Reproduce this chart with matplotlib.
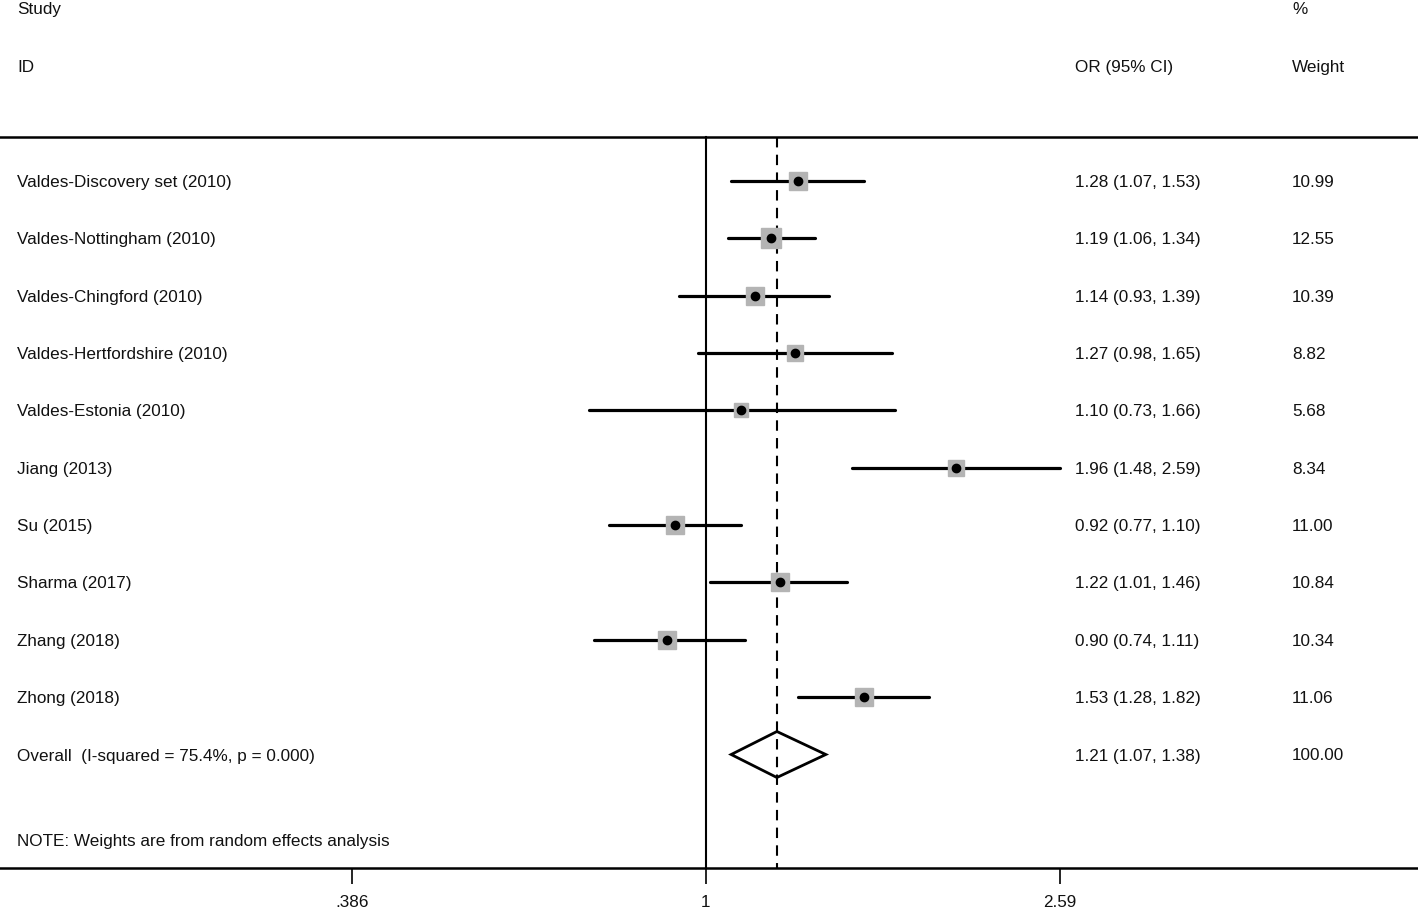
import numpy as np
import matplotlib
matplotlib.use("Agg")
import matplotlib.pyplot as plt
from matplotlib.patches import Polygon
from matplotlib.transforms import blended_transform_factory

plt.rcParams['font.family'] = ['Liberation Sans', 'DejaVu Sans']

studies = ["Valdes-Discovery set (2010)", "Valdes-Nottingham (2010)", "Valdes-Chingford (2010)",
           "Valdes-Hertfordshire (2010)", "Valdes-Estonia (2010)", "Jiang (2013)", "Su (2015)",
           "Sharma (2017)", "Zhang (2018)", "Zhong (2018)"]
or_vals = [1.28, 1.19, 1.14, 1.27, 1.10, 1.96, 0.92, 1.22, 0.90, 1.53]
ci_low = [1.07, 1.06, 0.93, 0.98, 0.73, 1.48, 0.77, 1.01, 0.74, 1.28]
ci_high = [1.53, 1.34, 1.39, 1.65, 1.66, 2.59, 1.10, 1.46, 1.11, 1.82]
weights = [10.99, 12.55, 10.39, 8.82, 5.68, 8.34, 11.00, 10.84, 10.34, 11.06]
overall_label = "Overall  (I-squared = 75.4%, p = 0.000)"
overall_or, overall_low, overall_high = 1.21, 1.07, 1.38
overall_weight = 100.00
tick_vals = [0.386, 1, 2.59]
tick_labels = [".386", "1", "2.59"]

W, H = 1418, 908
fig = plt.figure(figsize=(W/100, H/100), dpi=100)
ax = fig.add_axes([0, 0, 1, 1])
ax.set_xscale('log')
x0px, scale = 706, 372.0
ax.set_xlim(np.exp((0 - x0px)/scale), np.exp((W - x0px)/scale))
ax.set_ylim(H, 0)
ax.minorticks_off()

fs = 12.3
tc = '#111111'
row_y0, row_dy = 181, 57.35
top_y, axis_y = 137, 868
n = len(studies)
overall_y = row_y0 + n*row_dy
toff = 1.5

x_lab, x_or, x_w = 17/W, 1075/W, 1292/W
trx = blended_transform_factory(ax.transAxes, ax.transData)

def txt(x, y, s):
    ax.text(x, y + toff, s, transform=trx, fontsize=fs, va='center', ha='left', color=tc)

txt(x_lab, 8, "Study")
txt(x_lab, 66, "ID")
txt(x_w, 8, "%")
txt(x_or, 66, "OR (95% CI)")
txt(x_w, 66, "Weight")

# top rule
ax.axhline(top_y, color='black', lw=1.8, xmin=0.0, xmax=0.999)

# reference lines
ax.plot([1, 1], [top_y, axis_y], color='black', lw=1.5, zorder=2)
ax.plot([overall_or, overall_or], [top_y, axis_y], color='black', lw=1.5,
        dashes=(5, 3.5), zorder=2)

for i in range(n):
    y = row_y0 + i*row_dy
    ax.plot([ci_low[i], ci_high[i]], [y, y], color='black', lw=2.3, solid_capstyle='round', zorder=3)
    side = 20*np.sqrt(weights[i]/12.55)*0.72
    ax.plot(or_vals[i], y, marker='s', ms=side, color='#b4b4b4', mec='#b4b4b4', zorder=4)
    ax.plot(or_vals[i], y, marker='o', ms=6, color='black', zorder=5)
    txt(x_lab, y, studies[i])
    txt(x_or, y, f"{or_vals[i]:.2f} ({ci_low[i]:.2f}, {ci_high[i]:.2f})")
    txt(x_w, y, f"{weights[i]:.2f}")

# overall diamond
dh = 23
diamond = Polygon([[overall_low, overall_y], [overall_or, overall_y - dh],
                   [overall_high, overall_y], [overall_or, overall_y + dh]],
                  closed=True, fill=False, edgecolor='black', lw=2.0, zorder=4)
ax.add_patch(diamond)
txt(x_lab, overall_y, overall_label)
txt(x_or, overall_y, f"{overall_or:.2f} ({overall_low:.2f}, {overall_high:.2f})")
txt(x_w, overall_y, f"{overall_weight:.2f}")

txt(x_lab, 840, "NOTE: Weights are from random effects analysis")

# axis
for s in ['top', 'left', 'right']:
    ax.spines[s].set_visible(False)
ax.spines['bottom'].set_position(('data', axis_y))
ax.spines['bottom'].set_linewidth(1.8)
ax.set_xticks(tick_vals)
ax.set_xticklabels(tick_labels, fontsize=fs, color=tc)
ax.tick_params(axis='x', direction='out', length=11.5, width=1.2, pad=8)
ax.set_yticks([])

fig.savefig("out.png", dpi=100)
